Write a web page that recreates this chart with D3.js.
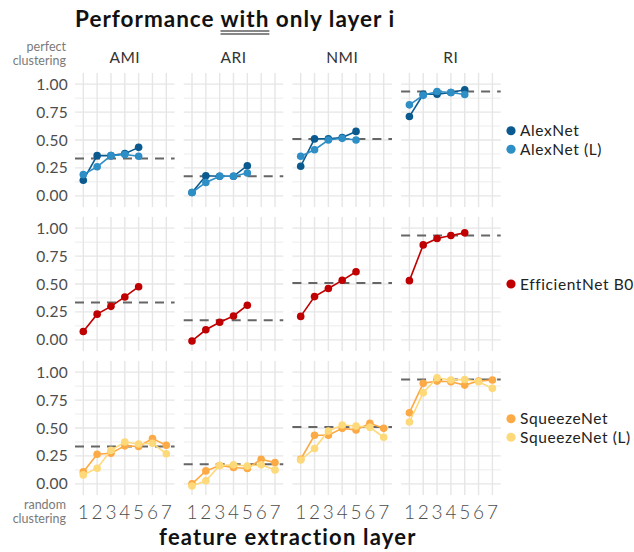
<!DOCTYPE html>
<html>
<head>
<meta charset="utf-8">
<script src="https://cdn.jsdelivr.net/npm/d3@7"></script>
<style>
  html, body { margin: 0; padding: 0; background: #fff; }
  svg { display: block; font-family: Lato, "Open Sans", sans-serif; }
</style>
</head>
<body>
<svg id="chart" width="634" height="552"></svg>
<script>
// ---------- data ----------
const metrics = ["AMI", "ARI", "NMI", "RI"];
const layers = [1, 2, 3, 4, 5, 6, 7];
const yTicks = [0, 0.25, 0.5, 0.75, 1];
const yTickLabels = ["0.00", "0.25", "0.50", "0.75", "1.00"];
const baseline = [0.335, 0.175, 0.51, 0.935]; // dashed reference per metric

// values per metric (AMI, ARI, NMI, RI), index = layer - 1
const alexnet = [
  [0.14, 0.36, 0.36, 0.378, 0.434],
  [0.03, 0.18, 0.175, 0.175, 0.27],
  [0.265, 0.51, 0.51, 0.523, 0.577],
  [0.71, 0.91, 0.91, 0.925, 0.95]
];
const alexnetL = [
  [0.19, 0.26, 0.36, 0.37, 0.355],
  [0.03, 0.12, 0.175, 0.175, 0.205],
  [0.354, 0.413, 0.50, 0.515, 0.50],
  [0.815, 0.90, 0.934, 0.925, 0.907]
];
const efficientnet = [
  [0.074, 0.23, 0.30, 0.384, 0.476],
  [-0.01, 0.09, 0.158, 0.214, 0.31],
  [0.21, 0.387, 0.46, 0.533, 0.61],
  [0.53, 0.85, 0.907, 0.935, 0.958]
];
const squeezenet = [
  [0.107, 0.265, 0.274, 0.34, 0.334, 0.405, 0.345],
  [0.0, 0.116, 0.164, 0.146, 0.137, 0.22, 0.19],
  [0.22, 0.435, 0.435, 0.497, 0.482, 0.542, 0.497],
  [0.637, 0.9, 0.92, 0.914, 0.884, 0.92, 0.93]
];
const squeezenetL = [
  [0.08, 0.14, 0.30, 0.375, 0.357, 0.363, 0.27],
  [-0.02, 0.027, 0.164, 0.17, 0.16, 0.17, 0.125],
  [0.214, 0.316, 0.473, 0.527, 0.518, 0.506, 0.417],
  [0.554, 0.816, 0.95, 0.93, 0.935, 0.914, 0.855]
];

const rows = [
  [{ name: "AlexNet", color: "#0b5a8f", values: alexnet },
   { name: "AlexNet (L)", color: "#2e8ec6", values: alexnetL }],
  [{ name: "EfficientNet B0", color: "#c00000", values: efficientnet }],
  [{ name: "SqueezeNet", color: "#fcaa45", values: squeezenet },
   { name: "SqueezeNet (L)", color: "#fed97a", values: squeezenetL }]
];

// ---------- layout ----------
const svg = d3.select("#chart");
const panelLeft0 = 75, panelW = 99.6, panelGapX = 9.1;
const rowTop0 = 73, panelH = 134, panelGapY = 10;

const x = d3.scaleLinear().domain([0.4, 7.6]).range([0, panelW]);
const y = d3.scaleLinear().domain([-0.1, 1.1]).range([panelH, 0]);
const minorTicks = [0.125, 0.375, 0.625, 0.875];

// title
const title = svg.append("text")
  .attr("x", 75).attr("y", 27)
  .attr("font-size", 22.5).attr("font-weight", 700).attr("fill", "#111")
  .attr("letter-spacing", 1);
title.append("tspan").text("Performance ");
title.append("tspan").text("with");
title.append("tspan").text(" only layer i");

// double underline under "with"
{
  const tn = title.node();
  const s0 = tn.getStartPositionOfChar(12).x;
  const e0 = tn.getEndPositionOfChar(15).x;
  [31, 34].forEach(yy => {
    svg.append("line")
      .attr("x1", s0).attr("x2", e0)
      .attr("y1", yy).attr("y2", yy)
      .attr("stroke", "#111").attr("stroke-width", 1.1);
  });
}

// perfect / random clustering labels
const sideLab = [["perfect", 51], ["clustering", 65], ["random", 509], ["clustering", 523]];
sideLab.forEach(([t, yy]) => {
  svg.append("text").attr("x", 66).attr("y", yy).attr("text-anchor", "end")
    .attr("font-size", 12.5).attr("fill", "#7a7a7a").text(t);
});

// strip labels
metrics.forEach((m, ci) => {
  svg.append("text")
    .attr("x", panelLeft0 + ci * (panelW + panelGapX) + panelW / 2)
    .attr("y", 63).attr("text-anchor", "middle")
    .attr("font-size", 15.5).attr("fill", "#333").attr("letter-spacing", 0.5).text(m);
});

const line = d3.line().x((d, i) => x(i + 1)).y(d => y(d));

rows.forEach((series, ri) => {
  const top = rowTop0 + ri * (panelH + panelGapY);

  // y axis labels
  yTicks.forEach((t, k) => {
    svg.append("text").attr("x", 68).attr("y", top + y(t))
      .attr("dy", "0.36em").attr("text-anchor", "end")
      .attr("font-size", 15.5).attr("fill", "#4d4d4d").attr("letter-spacing", 0.3)
      .text(yTickLabels[k]);
  });

  metrics.forEach((m, ci) => {
    const left = panelLeft0 + ci * (panelW + panelGapX);
    const g = svg.append("g").attr("transform", `translate(${left},${top})`);

    // grid
    g.selectAll(".minor").data(minorTicks).join("line")
      .attr("x1", 0).attr("x2", panelW)
      .attr("y1", d => y(d)).attr("y2", d => y(d))
      .attr("stroke", "#ececec").attr("stroke-width", 1);
    g.selectAll(".major").data(yTicks).join("line")
      .attr("x1", 0).attr("x2", panelW)
      .attr("y1", d => y(d)).attr("y2", d => y(d))
      .attr("stroke", "#e6e6e6").attr("stroke-width", 1.4);
    g.selectAll(".vgrid").data(layers).join("line")
      .attr("x1", d => x(d)).attr("x2", d => x(d))
      .attr("y1", 0).attr("y2", panelH)
      .attr("stroke", "#e6e6e6").attr("stroke-width", 1.4);

    // baseline dashed
    g.append("line")
      .attr("x1", 0).attr("x2", panelW)
      .attr("y1", y(baseline[ci])).attr("y2", y(baseline[ci]))
      .attr("stroke", "#666").attr("stroke-width", 2)
      .attr("stroke-dasharray", "9,7");

    // series
    series.forEach(s => {
      const vals = s.values[ci];
      g.append("path").datum(vals)
        .attr("d", line).attr("fill", "none")
        .attr("stroke", s.color).attr("stroke-width", 1.6);
      g.selectAll(null).data(vals).join("circle")
        .attr("cx", (d, i) => x(i + 1)).attr("cy", d => y(d))
        .attr("r", 3.8).attr("fill", s.color);
    });

    // x tick labels on bottom row
    if (ri === rows.length - 1) {
      g.selectAll(".xt").data(layers).join("text")
        .attr("x", d => x(d)).attr("y", panelH + 24)
        .attr("text-anchor", "middle")
        .attr("font-size", 19).attr("font-weight", 300)
        .attr("fill", "#4d4d4d").text(d => d);
    }
  });

  // legend
  const cy = top + panelH / 2;
  const n = series.length;
  series.forEach((s, k) => {
    const yy = cy + (k - (n - 1) / 2) * 18.5;
    svg.append("circle").attr("cx", 511).attr("cy", yy).attr("r", 4.6).attr("fill", s.color);
    svg.append("text").attr("x", 520).attr("y", yy).attr("dy", "0.36em")
      .attr("font-size", 15.5).attr("fill", "#222").attr("letter-spacing", 0.6).text(s.name);
  });
});

// x axis title
svg.append("text").attr("x", panelLeft0 + (4 * panelW + 3 * panelGapX) / 2).attr("y", 545)
  .attr("text-anchor", "middle").attr("font-size", 22).attr("font-weight", 700)
  .attr("letter-spacing", 1.2)
  .attr("fill", "#111").text("feature extraction layer");
</script>
</body>
</html>
